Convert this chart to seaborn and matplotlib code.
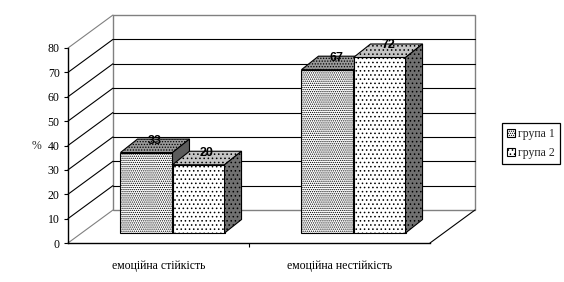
import numpy as np
import pandas as pd
import matplotlib
matplotlib.use("Agg")
import matplotlib.pyplot as plt
import seaborn as sns
from matplotlib.patches import Polygon, Rectangle, Patch
from matplotlib.lines import Line2D
from matplotlib.transforms import ScaledTranslation

# ---- data ----
categories = ["емоційна стійкість", "емоційна нестійкість"]
groups = ["група 1", "група 2"]
group1_values = [33, 67]
group2_values = [28, 72]
group1_labels = ["33", "67"]
group2_labels = ["20", "72"]
y_ticks = [0, 10, 20, 30, 40, 50, 60, 70, 80]
y_label = "%"

# ---- style ----
sns.set_theme(style="white")
plt.rcParams["font.family"] = ["Liberation Serif", "DejaVu Serif"]
plt.rcParams["hatch.linewidth"] = 0.6

W, H, DPI = 564, 282, 100
fig = plt.figure(figsize=(W / DPI, H / DPI), dpi=DPI)
fig.patch.set_facecolor("white")
ax = fig.add_axes([68 / W, 39 / H, 362 / W, 195 / H])
ax.set_facecolor("none")

df = pd.DataFrame({
    "cat": categories * 2,
    "group": [groups[0]] * len(categories) + [groups[1]] * len(categories),
    "value": group1_values + group2_values,
})
sns.barplot(data=df, x="cat", y="value", hue="group", hue_order=groups,
            order=categories, palette=["white", "white"], saturation=1,
            width=0.575, gap=0, edgecolor="black", linewidth=0.8,
            errorbar=None, legend=False, ax=ax)
ax.set_xlim(-0.5, 1.5)
ax.set_ylim(0, 80)

# pixel -> data conversion
ux = ax.bbox.width / (ax.get_xlim()[1] - ax.get_xlim()[0])
uy = ax.bbox.height / (ax.get_ylim()[1] - ax.get_ylim()[0])
def dxp(p):
    return p / ux
def dyp(p):
    return p / uy

WALL = (45, 33)
FRONT = (14, 10)
DEPTH = (17, 13.5)
GRAY = "#808080"

x_lo, x_hi = ax.get_xlim()
y_lo, y_hi = ax.get_ylim()
wx, wy = dxp(WALL[0]), dyp(WALL[1])

# back wall
ax.add_patch(Rectangle((x_lo + wx, y_lo + wy), x_hi - x_lo, y_hi - y_lo,
                       fill=False, edgecolor=GRAY, lw=1, clip_on=False, zorder=0.5))
for v in y_ticks:
    col = GRAY if v in (y_ticks[0], y_ticks[-1]) else "black"
    ax.add_line(Line2D([x_lo, x_lo + wx], [v, v + wy], color=col, lw=0.8,
                       clip_on=False, zorder=0.6))
    if v not in (y_ticks[0], y_ticks[-1]):
        ax.add_line(Line2D([x_lo + wx, x_hi + wx], [v + wy, v + wy], color="black",
                           lw=0.8, clip_on=False, zorder=0.6))
ax.add_line(Line2D([x_hi, x_hi + wx], [y_lo, y_lo + wy], color="black", lw=0.8,
                   clip_on=False, zorder=0.6))

# 3D bars
styles = [
    dict(front="........", top=("#999999", "......"), side=("#5c5c5c", "")),
    dict(front="....", top=("#c4c4c4", "...."), side=("#707070", "....")),
]
labels = [group1_labels, group2_labels]
fx, fy = dxp(FRONT[0]), dyp(FRONT[1])
bx, by = dxp(DEPTH[0]), dyp(DEPTH[1])
shift = ScaledTranslation(FRONT[0] / DPI, FRONT[1] / DPI, fig.dpi_scale_trans)

for gi, cont in enumerate(ax.containers):
    st = styles[gi]
    for bi, bar in enumerate(cont):
        x0 = bar.get_x()
        w = bar.get_width()
        h = bar.get_height()
        x1 = x0 + w
        z = 3 + x0
        bar.set_transform(ax.transData + shift)
        bar.set_hatch(st["front"])
        bar.set_zorder(z)
        bar.set_clip_on(False)
        top = [(x0 + fx, h + fy), (x1 + fx, h + fy),
               (x1 + fx + bx, h + fy + by), (x0 + fx + bx, h + fy + by)]
        side = [(x1 + fx, fy), (x1 + fx + bx, fy + by),
                (x1 + fx + bx, h + fy + by), (x1 + fx, h + fy)]
        ax.add_patch(Polygon(top, closed=True, facecolor=st["top"][0],
                             hatch=st["top"][1], edgecolor="black", lw=0.8,
                             clip_on=False, zorder=z + 0.01))
        ax.add_patch(Polygon(side, closed=True, facecolor=st["side"][0],
                             hatch=st["side"][1], edgecolor="black", lw=0.8,
                             clip_on=False, zorder=z + 0.01))
        ax.text(x0 + w / 2 + fx + bx / 2, h + fy + by - dyp(1.5), labels[gi][bi],
                ha="center", va="center", fontsize=9, fontweight="bold",
                color="black", family=["Liberation Sans", "DejaVu Sans"], zorder=10)

# axes styling
for s in ["top", "right"]:
    ax.spines[s].set_visible(False)
for s in ["left", "bottom"]:
    ax.spines[s].set_color("black")
    ax.spines[s].set_linewidth(1)
    ax.spines[s].set_zorder(2)
ax.set_yticks(y_ticks)
ax.tick_params(axis="y", length=3, width=0.8, direction="out", pad=3,
               labelsize=8.5, colors="black", left=True)
ax.set_xticks(range(len(categories)), categories)
ax.set_xticks([0.5], minor=True)
ax.tick_params(axis="x", which="major", length=0, pad=12, labelsize=8.5, colors="black")
ax.tick_params(axis="x", which="minor", length=3, width=0.8, direction="out",
               colors="black", bottom=True)
ax.set_xlabel("")
ax.set_ylabel(y_label, rotation=0, fontsize=8.5, labelpad=10, va="center")
ax.yaxis.set_label_coords(-31 / ax.bbox.width, (243 - 146) / 195, transform=ax.transAxes)
ax.grid(False)

# legend
handles = [Patch(facecolor="white", edgecolor="black", hatch=styles[0]["front"], lw=0.8),
           Patch(facecolor="white", edgecolor="black", hatch=styles[1]["front"], lw=0.8)]
leg = fig.legend(handles, groups, loc="upper left",
                 bbox_to_anchor=(502 / W, 1 - 123 / H), frameon=True, fancybox=False,
                 edgecolor="black", framealpha=1, fontsize=8.5, handlelength=0.65,
                 handleheight=0.65, handletextpad=0.25, borderpad=0.45,
                 labelspacing=0.55, borderaxespad=0)
leg.get_frame().set_linewidth(0.9)

fig.savefig("out.png", dpi=DPI, facecolor="white")
